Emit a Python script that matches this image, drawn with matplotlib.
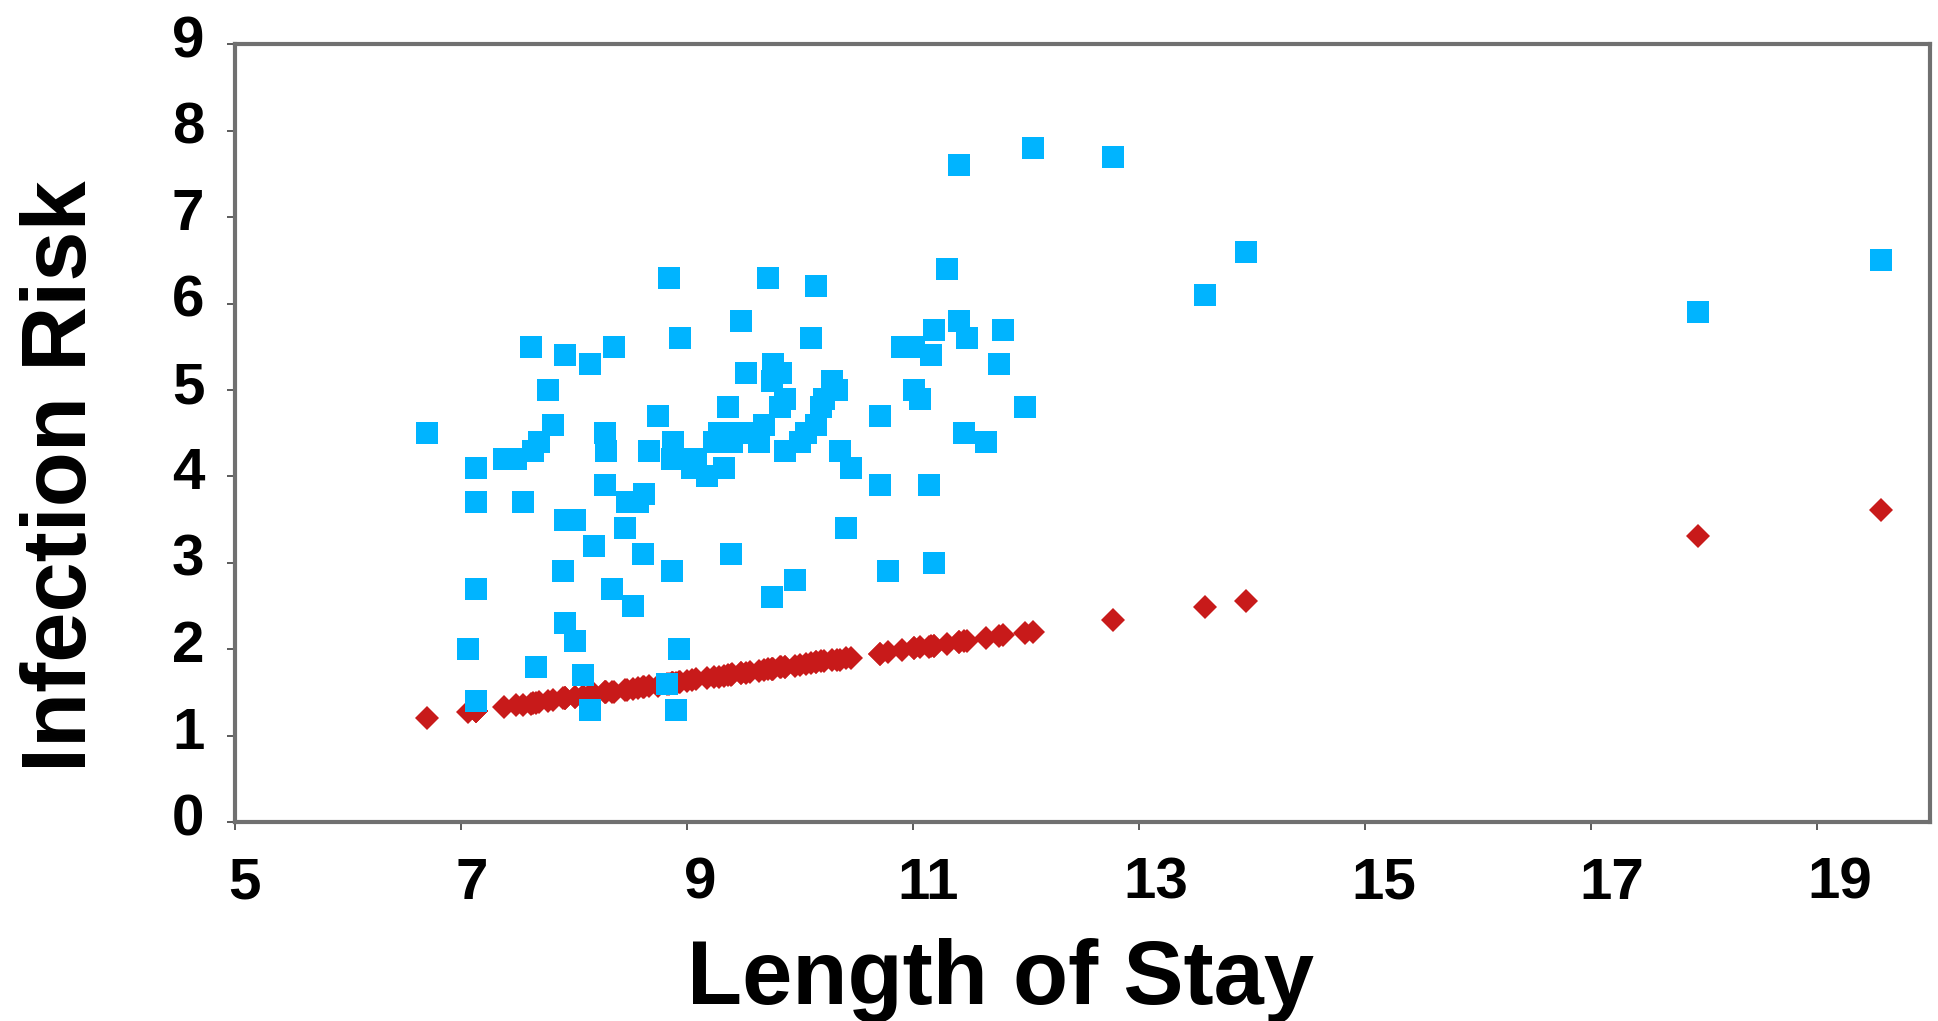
import matplotlib
matplotlib.use("Agg")
import matplotlib.pyplot as plt
import matplotlib.transforms as mtransforms

# Length of stay (x) for each hospital
length_of_stay = [
    6.70, 7.06, 7.13, 7.13, 7.13, 7.13, 7.38, 7.49, 7.55, 7.62,
    7.64, 7.69, 7.66, 7.77, 7.81, 7.90, 7.92, 7.92, 8.01, 7.92,
    8.01, 8.08, 8.14, 8.14, 8.18, 8.27, 8.28, 8.27, 8.34, 8.35,
    8.45, 8.47, 8.52, 8.57, 8.62, 8.61, 8.66, 8.74, 8.84, 8.88,
    8.87, 8.87, 8.82, 8.93, 8.90, 8.94, 9.00, 9.08, 9.04, 9.18,
    9.24, 9.28, 9.33, 9.36, 9.39, 9.40, 9.48, 9.52, 9.48, 9.56,
    9.64, 9.68, 9.72, 9.75, 9.76, 9.75, 9.83, 9.82, 9.87, 9.87,
    9.96, 10.00, 10.05, 10.10, 10.14, 10.14, 10.19, 10.21, 10.28, 10.33,
    10.35, 10.41, 10.45, 10.71, 10.71, 10.78, 10.90, 11.01, 11.01, 11.06,
    11.14, 11.16, 11.19, 11.19, 11.30, 11.41, 11.41, 11.45, 11.48, 11.65,
    11.76, 11.80, 11.99, 12.06, 12.77, 13.58, 13.95, 17.95, 19.57,
]

# Observed infection risk (blue squares)
infection_risk = [
    4.5, 2.0, 4.1, 3.7, 2.7, 1.4, 4.2, 4.2, 3.7, 5.5,
    4.3, 4.4, 1.8, 5.0, 4.6, 2.9, 5.4, 3.5, 3.5, 2.3,
    2.1, 1.7, 5.3, 1.3, 3.2, 4.5, 4.3, 3.9, 2.7, 5.5,
    3.4, 3.7, 2.5, 3.7, 3.8, 3.1, 4.3, 4.7, 6.3, 4.4,
    4.2, 2.9, 1.6, 2.0, 1.3, 5.6, 4.2, 4.2, 4.1, 4.0,
    4.4, 4.5, 4.1, 4.8, 3.1, 4.4, 5.8, 5.2, 4.5, 4.5,
    4.4, 4.6, 6.3, 2.6, 5.3, 5.1, 5.2, 4.8, 4.9, 4.3,
    2.8, 4.4, 4.5, 5.6, 6.2, 4.6, 4.8, 4.9, 5.1, 5.0,
    4.3, 3.4, 4.1, 4.7, 3.9, 2.9, 5.5, 5.5, 5.0, 4.9,
    3.9, 5.4, 5.7, 3.0, 6.4, 7.6, 5.8, 4.5, 5.6, 4.4,
    5.3, 5.7, 4.8, 7.8, 7.7, 6.1, 6.6, 5.9, 6.5,
]

# Predicted infection risk (red diamonds)
predicted_risk = [
    1.20, 1.27, 1.28, 1.28, 1.28, 1.28, 1.33, 1.35, 1.36, 1.37,
    1.38, 1.39, 1.38, 1.40, 1.41, 1.43, 1.43, 1.43, 1.45, 1.43,
    1.45, 1.46, 1.47, 1.47, 1.48, 1.50, 1.50, 1.50, 1.51, 1.51,
    1.53, 1.53, 1.54, 1.55, 1.56, 1.56, 1.57, 1.58, 1.60, 1.61,
    1.61, 1.61, 1.60, 1.62, 1.61, 1.62, 1.63, 1.65, 1.64, 1.67,
    1.68, 1.68, 1.69, 1.70, 1.70, 1.71, 1.72, 1.73, 1.72, 1.74,
    1.75, 1.76, 1.77, 1.77, 1.77, 1.77, 1.79, 1.79, 1.79, 1.79,
    1.81, 1.82, 1.83, 1.84, 1.85, 1.85, 1.86, 1.86, 1.87, 1.88,
    1.88, 1.90, 1.90, 1.95, 1.95, 1.97, 1.99, 2.01, 2.01, 2.02,
    2.03, 2.04, 2.04, 2.04, 2.06, 2.08, 2.08, 2.09, 2.10, 2.13,
    2.15, 2.16, 2.19, 2.20, 2.34, 2.49, 2.56, 3.31, 3.61,
]

x_ticks = [5, 7, 9, 11, 13, 15, 17, 19]
y_ticks = [0, 1, 2, 3, 4, 5, 6, 7, 8, 9]

plt.rcParams['font.family'] = ['Liberation Sans', 'DejaVu Sans']
plt.rcParams['font.weight'] = 'bold'

W, H = 1938, 1021
fig = plt.figure(figsize=(W / 100, H / 100), dpi=100)
ax = fig.add_axes([235 / W, 1 - 822 / H, (1930 - 235) / W, (822 - 44.5) / H])

ax.plot(length_of_stay, predicted_risk, linestyle='none', marker='D',
        markersize=12.5, color='#C81A1A', markeredgewidth=0, zorder=3)
ax.plot(length_of_stay, infection_risk, linestyle='none', marker='s',
        markersize=15.6, color='#00B4FF', markeredgewidth=0, zorder=4)

ax.set_xlim(5, 20)
ax.set_ylim(0, 9)
ax.set_xticks(x_ticks)
ax.set_yticks(y_ticks)
ax.set_xticklabels([str(v) for v in x_ticks], fontsize=42, fontweight='bold')
ax.set_yticklabels([str(v) for v in y_ticks], fontsize=42, fontweight='bold')

for side in ['left', 'right', 'top', 'bottom']:
    ax.spines[side].set_color('#707070')
    ax.spines[side].set_linewidth(3.0)

ax.tick_params(axis='both', direction='out', length=6, width=1.2, color='#404040')
ax.tick_params(axis='x', pad=19)
ax.tick_params(axis='y', pad=16)

for v, lab in zip(x_ticks, ax.get_xticklabels()):
    dx_px = 9 + (v - 5) * 1.0
    lab.set_transform(lab.get_transform() +
                      mtransforms.ScaledTranslation(dx_px / 100, 0, fig.dpi_scale_trans))
off_y = mtransforms.ScaledTranslation(0, 0.08, fig.dpi_scale_trans)
for lab in ax.get_yticklabels():
    lab.set_transform(lab.get_transform() + off_y)

fig.text(1001 / W, 1 - 1004 / H, 'Length of Stay', fontsize=65, fontweight='bold',
         ha='center', va='baseline')
fig.text(86.5 / W, 1 - 476 / H, 'Infection Risk', fontsize=65, fontweight='bold',
         ha='center', va='baseline', rotation=90, rotation_mode='anchor')

fig.savefig('out.png', dpi=100, facecolor='white')
